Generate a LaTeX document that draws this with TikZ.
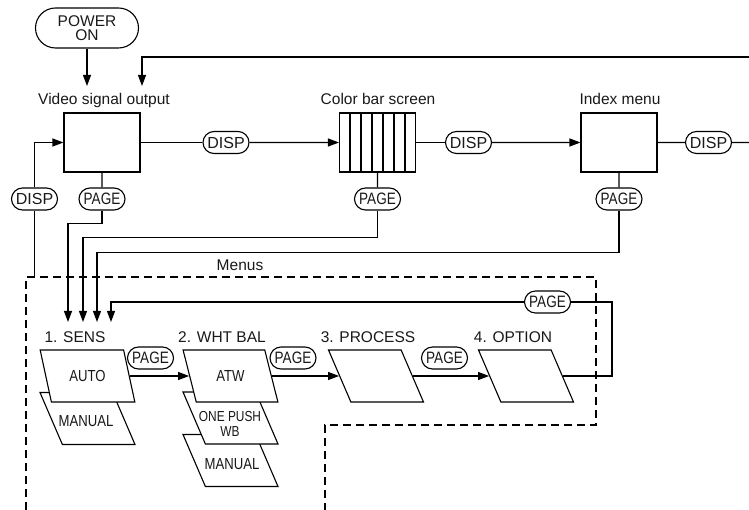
\documentclass[tikz,border=0pt]{standalone}
\usepackage{fontspec}
\setmainfont{Liberation Sans}
\newfontfamily\narrowfont{Liberation Sans}[FakeStretch=0.82]
\usetikzlibrary{arrows.meta,shapes.geometric,shapes.misc}

\begin{document}
\begin{tikzpicture}[
	x=1pt, y=-1pt,
	line width=1.1pt,
	>={Triangle[length=11pt,width=8pt]},
	txt/.style={text=black!90, inner sep=0pt, font=\fontsize{15.5}{17}\selectfont},
	powerbox/.style={rounded rectangle, draw, inner sep=0pt, minimum width=103pt, minimum height=40pt, align=center, text=black!90, font=\fontsize{15.5}{14}\selectfont},
	pill/.style={rounded rectangle, draw, fill=white, inner sep=0pt, minimum width=46pt, minimum height=22pt, text=black!90, font=\fontsize{16}{17}\selectfont},
	pagepill/.style={pill, font=\narrowfont\fontsize{16.5}{17}\selectfont},
	screen/.style={rectangle, draw, inner sep=0pt, minimum width=76pt, minimum height=59pt},
	menubox/.style={trapezium, trapezium left angle=114, trapezium right angle=66, trapezium stretches=true, draw, fill=white, inner sep=1pt, minimum width=95pt, minimum height=52pt, text=black!90, font=\narrowfont\fontsize{16}{17}\selectfont},
	menutext/.style={inner sep=0pt, align=center, text=black!90, font=\narrowfont\fontsize{16}{15}\selectfont},
	dashedbox/.style={dash pattern=on 8pt off 5pt}
	]
	\useasboundingbox (0,0) rectangle (749,510);

	% top row
	\node[powerbox] (nodePower) at (87,28) {POWER\\ON};
	\node[txt] (lblVideo) at (104,100) {Video signal output};
	\node[txt] (lblBar) at (378,99) {Color bar screen};
	\node[txt] (lblIndex) at (620,99) {Index menu};

	\node[screen] (nodeVideo) at (102,142.5) {};
	\node[screen] (nodeBar) at (377.5,142.5) {};
	\node[screen] (nodeIndex) at (619,142.5) {};
	\foreach \i in {1,...,6}
		\draw ({339+\i*11},113) -- ({339+\i*11},172);

	\node[pill] (dispLeft) at (34.5,199) {DISP};
	\node[pill] (dispOne) at (226,142.5) {DISP};
	\node[pill] (dispTwo) at (468.5,142.5) {DISP};
	\node[pill] (dispThree) at (708.5,142.5) {DISP};
	\node[pagepill] (pageVideo) at (102,199) {PAGE};
	\node[pagepill] (pageBar) at (377.5,199) {PAGE};
	\node[pagepill] (pageIndex) at (619,199) {PAGE};

	\coordinate (videoIn) at (87,86);
	\coordinate (loopDown) at (142,86);
	\coordinate (loopIn) at (749,57);
	\coordinate (dispOut) at (749,142.5);
	\coordinate (menuTop) at (34.5,277);

	\draw[->] (nodePower) -- (videoIn);
	\draw[->] (loopIn) -| (loopDown);
	\draw (nodeVideo) -- (dispOne);
	\draw[->] (dispOne) -- (nodeBar);
	\draw (nodeBar) -- (dispTwo);
	\draw[->] (dispTwo) -- (nodeIndex);
	\draw (nodeIndex) -- (dispThree) -- (dispOut);
	\draw (menuTop) -- (dispLeft);
	\draw[->] (dispLeft) |- (nodeVideo);
	\draw (nodeVideo) -- (pageVideo);
	\draw (nodeBar) -- (pageBar);
	\draw (nodeIndex) -- (pageIndex);

	% menus
	\draw[dashedbox] (26,510) -- (26,277) -- (596,277) -- (596,425) -- (325,425) -- (325,510);
	\node[txt] (lblMenus) at (240,265) {Menus};

	\node[txt] (lblSens) at (75,337) {1. SENS};
	\node[txt] (lblWht) at (222,337) {2. WHT BAL};
	\node[txt] (lblProc) at (368,337) {3. PROCESS};
	\node[txt] (lblOpt) at (513,337) {4. OPTION};

	\node[menubox] (sensMan) at (87.5,418.5) {};
	\node[menubox] (sensAuto) at (87.5,376) {AUTO};
	\node[menubox] (whtMan) at (230.5,460.5) {};
	\node[menubox] (whtPush) at (230.5,418) {};
	\node[menubox] (whtAtw) at (230.5,376) {ATW};
	\node[menubox] (procBox) at (376,376) {};
	\node[menubox] (optBox) at (526,376) {};
	\node[menutext] (txtSensMan) at (86,421) {MANUAL};
	\node[menutext, font=\narrowfont\fontsize{14.5}{15.5}\selectfont] (txtPush) at (230,424) {ONE PUSH\\WB};
	\node[menutext] (txtWhtMan) at (232,464) {MANUAL};

	\node[pagepill] (pageSens) at (150.5,358) {PAGE};
	\node[pagepill] (pageWht) at (293,358) {PAGE};
	\node[pagepill] (pageProc) at (444.5,358) {PAGE};
	\node[pagepill] (pageLoop) at (547.5,302) {PAGE};

	\coordinate (tipSensA) at (68,322);
	\coordinate (tipSensB) at (83,322);
	\coordinate (tipSensC) at (97,322);
	\coordinate (tipSensD) at (111,322);
	\coordinate (loopCorner) at (612,376);

	\draw[->] (pageVideo.south) -- ++(0,13) -| (tipSensA);
	\draw[->] (pageBar.south) -- ++(0,27) -| (tipSensB);
	\draw[->] (pageIndex.south) -- ++(0,42) -| (tipSensC);
	\draw[->] (sensAuto.right side) -- (whtAtw.left side);
	\draw[->] (whtAtw.right side) -- (procBox.left side);
	\draw[->] (procBox.right side) -- (optBox.left side);
	\draw (optBox.right side) -- (loopCorner) |- (pageLoop);
	\draw[->] (pageLoop) -| (tipSensD);
\end{tikzpicture}
\end{document}
